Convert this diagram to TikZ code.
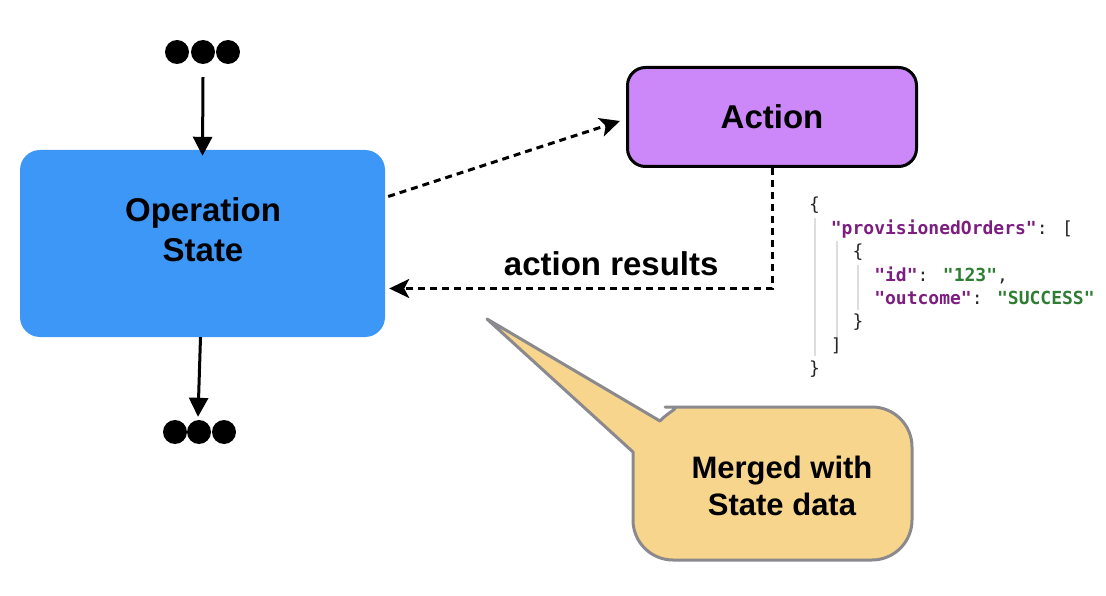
\documentclass[tikz,border=0pt]{standalone}
\usepackage{fontspec}
\setmainfont{Liberation Sans}
\newfontfamily\jsonfont{DejaVu Sans Mono}
\usepackage{xcolor}
\usepackage{tikz}
\usetikzlibrary{arrows.meta}

\definecolor{opBlue}{RGB}{61,151,246}
\definecolor{actPurple}{RGB}{204,136,248}
\definecolor{noteYellow}{RGB}{248,213,140}
\definecolor{noteGray}{RGB}{138,138,142}
\definecolor{jsonKey}{RGB}{124,30,128}
\definecolor{jsonVal}{RGB}{46,125,50}
\definecolor{jsonGuide}{RGB}{221,221,221}

\tikzstyle{tsBigBold} = [ 
    text=black, 
    font=\fontsize{33}{40}\selectfont\bfseries
]
\tikzstyle{tsOpBox} = [ 
    rectangle,
    rounded corners=20pt,
    fill=opBlue,
    minimum width=365pt,
    minimum height=187pt]
\tikzstyle{tsActionBox} = [ 
    rectangle,
    tsBigBold,
    rounded corners=18pt,
    draw=black,
    line width=3pt,
    fill=actPurple,
    minimum width=289pt,
    minimum height=99pt]
\tikzstyle{tsDot} = [ 
    circle,
    fill=black,
    minimum size=24pt,
    inner sep=0pt]
\tikzstyle{tsSolidArrow} = [ 
    line width=3pt,
    -{Triangle[length=19pt,width=19pt]}]
\tikzstyle{tsDashArrow} = [ 
    line width=3pt,
    dash pattern=on 7pt off 5pt,
    -{Stealth[length=20pt,width=19pt,inset=5pt]}]
\tikzstyle{tsBubble} = [ 
    fill=noteYellow,
    draw=noteGray,
    line width=3pt,
    line join=round]
\tikzstyle{tsJson} = [ 
    anchor=base west,
    inner sep=0pt,
    text=black!85,
    font=\jsonfont\fontsize{18}{23}\selectfont]
\tikzstyle{tsGuide} = [ 
    draw=jsonGuide,
    line width=1.5pt]

\newcommand{\jkey}[1]{\textcolor{jsonKey}{\bfseries #1}}
\newcommand{\jval}[1]{\textcolor{jsonVal}{\bfseries #1}}

\begin{document}
\begin{tikzpicture}[x=1pt, y=-1pt]

        \useasboundingbox (0,0) rectangle (1106,596);

        % main boxes
        \node[tsOpBox] (opstate) at (202.5,243.5) { };
        \node[tsBigBold, align=center] (opstateText) at (203,230) {Operation\\State};
        \node[tsActionBox] (action) at (772,117) {Action};

        % dots above and below
        \node[tsDot] (dotInA) at (177,52) { };
        \node[tsDot] (dotInB) at (203,52) { };
        \node[tsDot] (dotInC) at (228,52) { };
        \node[tsDot] (dotOutA) at (175,432) { };
        \node[tsDot] (dotOutB) at (199,432) { };
        \node[tsDot] (dotOutC) at (224,432) { };

        \draw[tsSolidArrow] ([yshift=-13pt]dotInB.south) -- ([yshift=-6pt]opstate.north);
        \draw[tsSolidArrow] ([xshift=-2pt]opstate.south) -- ([xshift=-1pt,yshift=3pt]dotOutB.north);

        % call and result
        \draw[tsDashArrow] ([xshift=3pt,yshift=47pt]opstate.east) -- ([xshift=-6pt,yshift=-4pt]action.west);
        \draw[tsDashArrow] (action.south) |- ([xshift=4pt,yshift=-45pt]opstate.east)
             node[tsBigBold, pos=0.71, above=8pt] (resultsLabel) {action results};

        % callout
        \draw[tsBubble] (633,452) [rounded corners=40pt] -- (633,560) -- (912,560) -- (912,407) -- (705,407)
             [sharp corners] .. controls (685,407) and (671,409) .. (660,421) -- (487,319) -- cycle;
        \node[tsBigBold, font=\fontsize{31}{37}\selectfont\bfseries, align=center] (mergedText) at (782,486) {Merged with\\State data};

        % json sample
        \draw[tsGuide] (815,218) -- (815,356);
        \draw[tsGuide] (837,241) -- (837,350);
        \draw[tsGuide] (858,265) -- (858,310);

        \node[tsJson] (json1) at (809,211) {\{};
        \node[tsJson] (json2) at (830.7,234.5) {\jkey{"provisionedOrders"}: [};
        \node[tsJson] (json3) at (852.4,258) {\{};
        \node[tsJson] (json4) at (874.1,281) {\jkey{"id"}: \jval{"123"},};
        \node[tsJson] (json5) at (874.1,304) {\jkey{"outcome"}: \jval{"SUCCESS"}};
        \node[tsJson] (json6) at (852.4,327.5) {\}};
        \node[tsJson] (json7) at (830.7,351) {]};
        \node[tsJson] (json8) at (809,374) {\}};

\end{tikzpicture}
\end{document}
